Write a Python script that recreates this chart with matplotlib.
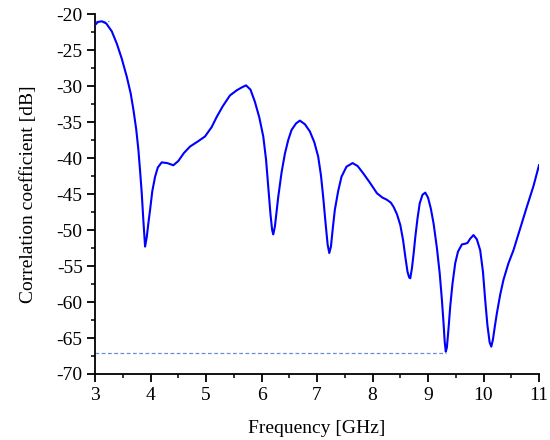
import matplotlib
matplotlib.use("Agg")
import matplotlib.pyplot as plt
from matplotlib.ticker import MultipleLocator

# values
freq = [3.00, 3.05, 3.12, 3.20, 3.30, 3.39, 3.48, 3.57, 3.64, 3.69, 3.74, 3.78, 3.81,
        3.84, 3.87, 3.90, 3.93, 3.96, 3.99, 4.03, 4.08, 4.13, 4.20, 4.30, 4.41, 4.50,
        4.60, 4.71, 4.85, 4.98, 5.10, 5.19, 5.30, 5.43, 5.55, 5.64, 5.72, 5.80, 5.88,
        5.96, 6.03, 6.08, 6.12, 6.16, 6.19, 6.21, 6.24, 6.27, 6.30, 6.36, 6.42, 6.48,
        6.54, 6.62, 6.69, 6.78, 6.87, 6.95, 7.02, 7.07, 7.11, 7.15, 7.19, 7.22, 7.25,
        7.28, 7.32, 7.38, 7.44, 7.53, 7.64, 7.73, 7.83, 7.95, 8.08, 8.18, 8.26, 8.33,
        8.38, 8.44, 8.50, 8.55, 8.59, 8.63, 8.66, 8.68, 8.71, 8.74, 8.77, 8.81, 8.85,
        8.90, 8.95, 9.00, 9.05, 9.10, 9.16, 9.21, 9.25, 9.28, 9.30, 9.32, 9.34, 9.37,
        9.40, 9.44, 9.49, 9.54, 9.61, 9.67, 9.71, 9.76, 9.82, 9.88, 9.94, 9.99, 10.03,
        10.07, 10.11, 10.14, 10.17, 10.20, 10.24, 10.30, 10.36, 10.45, 10.54, 10.66,
        10.78, 10.90, 11.00]
corr = [-21.5, -21.1, -21.0, -21.3, -22.4, -24.1, -26.2, -28.7, -31.0, -33.3, -36.0,
        -38.9, -41.8, -44.9, -48.8, -52.3, -51.0, -49.0, -47.2, -44.6, -42.6, -41.3,
        -40.6, -40.7, -41.0, -40.4, -39.3, -38.4, -37.7, -37.0, -35.7, -34.3, -32.8,
        -31.3, -30.6, -30.2, -29.9, -30.5, -32.2, -34.4, -37.0, -40.2, -44.0, -47.8,
        -50.0, -50.6, -49.5, -47.5, -45.4, -42.0, -39.4, -37.5, -36.1, -35.2, -34.8,
        -35.3, -36.3, -37.8, -39.8, -42.4, -45.4, -48.8, -52.0, -53.2, -52.3, -50.0,
        -47.2, -44.6, -42.6, -41.2, -40.7, -41.1, -42.1, -43.4, -44.9, -45.5, -45.8,
        -46.2, -46.8, -47.8, -49.3, -51.4, -53.7, -55.8, -56.6, -56.7, -55.3, -53.3,
        -51.0, -48.4, -46.3, -45.1, -44.8, -45.5, -47.0, -49.1, -52.5, -56.0, -59.7,
        -63.0, -65.5, -66.9, -66.3, -63.6, -60.6, -57.5, -54.6, -53.0, -52.0, -51.9,
        -51.8, -51.2, -50.7, -51.3, -52.8, -55.8, -59.7, -63.2, -65.6, -66.2, -65.2,
        -63.6, -61.6, -59.0, -56.9, -54.6, -52.8, -49.8, -46.8, -43.9, -41.0]

ref_top = -21.0
ref_top_span = (3.0, 3.25)
ref_bottom = -67.1
ref_bottom_span = (3.0, 9.32)

plt.rcParams["font.family"] = ["Liberation Serif", "DejaVu Serif"]
plt.rcParams["axes.unicode_minus"] = False

fig = plt.figure(figsize=(5.5, 4.4), dpi=100)
ax = fig.add_axes([0.173, 0.15, 0.807, 0.818])

ax.plot(freq, corr, color="#0000ff", lw=1.5, zorder=3, solid_joinstyle="round")
ax.plot(ref_top_span, [ref_top, ref_top], "--", color="#6a8fd0", lw=0.9, dashes=(3, 2))
ax.plot(ref_bottom_span, [ref_bottom, ref_bottom], "--", color="#6a8fd0", lw=0.9,
        dashes=(3, 2))

ax.set_xlim(3, 11)
ax.set_ylim(-70, -20)
ax.xaxis.set_major_locator(MultipleLocator(1))
ax.xaxis.set_minor_locator(MultipleLocator(0.5))
ax.yaxis.set_major_locator(MultipleLocator(5))
ax.yaxis.set_minor_locator(MultipleLocator(2.5))
ax.spines["top"].set_visible(False)
ax.spines["right"].set_visible(False)
for s in ("left", "bottom"):
    ax.spines[s].set_linewidth(1.3)
ax.tick_params(which="major", direction="out", length=6, width=1.3, labelsize=14,
               pad=3)
ax.tick_params(which="minor", direction="out", length=3, width=1.1)

ax.set_xlabel("Frequency [GHz]", fontsize=14, labelpad=12)
ax.set_ylabel("Correlation coefficient [dB]", fontsize=14, labelpad=14)

fig.savefig("out.png", dpi=100)
